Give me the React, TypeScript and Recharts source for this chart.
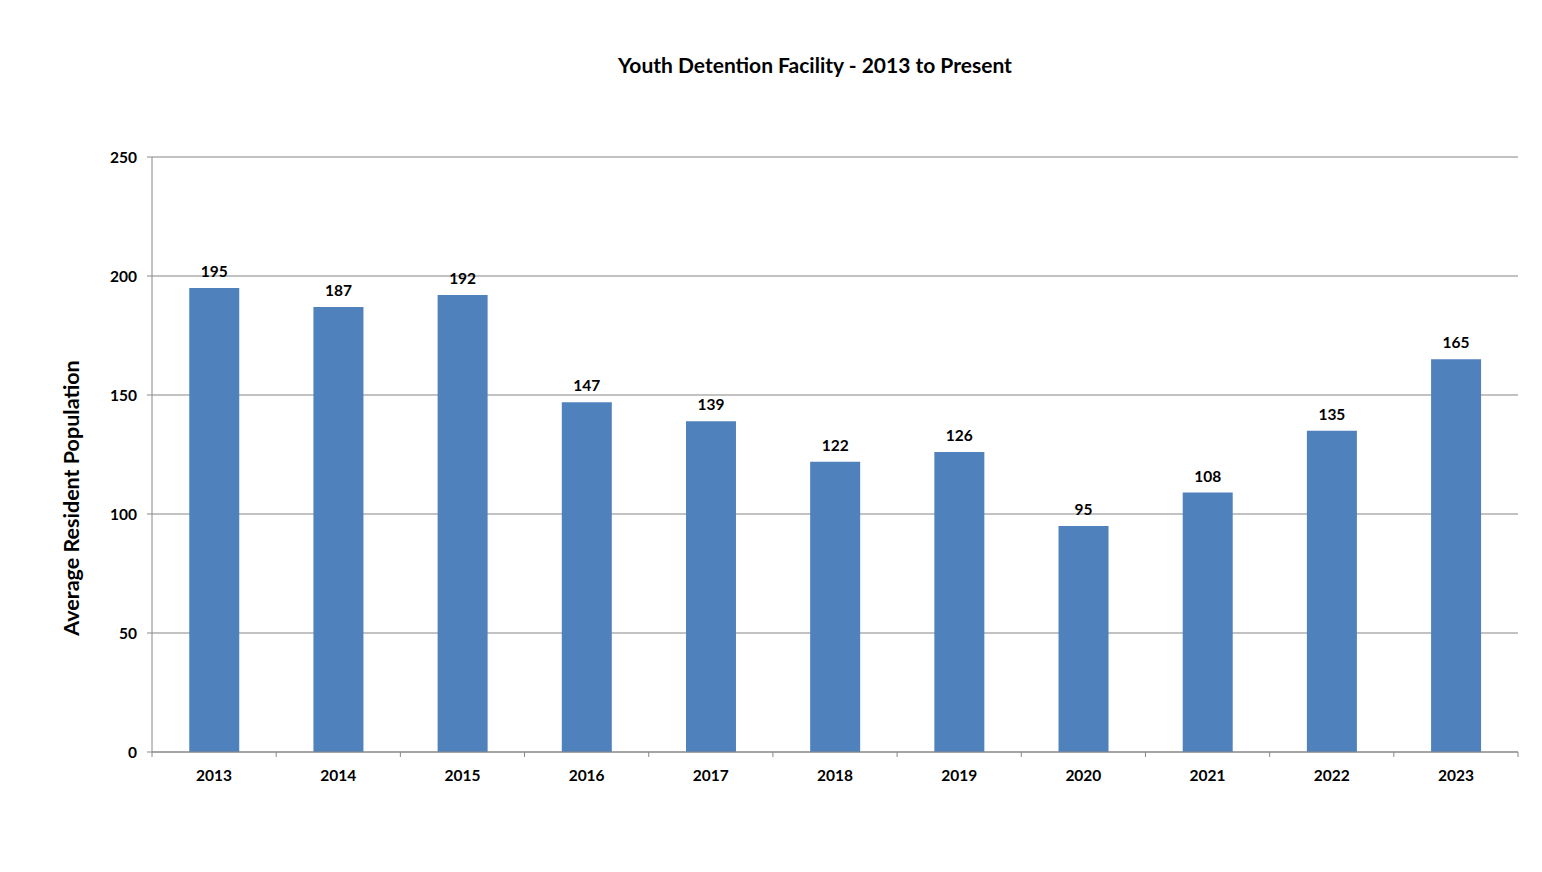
import React from 'react';
import { BarChart, Bar, XAxis, YAxis, CartesianGrid, LabelList } from 'recharts';

const years = ['2013', '2014', '2015', '2016', '2017', '2018', '2019', '2020', '2021', '2022', '2023'];
const population = [195, 187, 192, 147, 139, 122, 126, 95, 109, 135, 165];
const populationLabels = ['195', '187', '192', '147', '139', '122', '126', '95', '108', '135', '165'];
const yTicks = [0, 50, 100, 150, 200, 250];

const data = years.map((year, i) => ({
  year,
  value: population[i],
  label: populationLabels[i],
}));

const FONT = 'Lato, "Open Sans", sans-serif';
const CHART_W = 1542;
const CHART_H = 872;
const MARGIN = { top: 157, right: 24, left: 0, bottom: 90 };
const Y_AXIS_W = 152;
const PLOT_W = CHART_W - MARGIN.left - MARGIN.right - Y_AXIS_W;
const BAND = PLOT_W / years.length;

const XTick = (props: any) => {
  const { x, y, payload, index } = props;
  const top = y - 8;
  return (
    <g>
      <line x1={x - BAND / 2} y1={top} x2={x - BAND / 2} y2={top + 5} stroke="#888" />
      {index === years.length - 1 && (
        <line x1={x + BAND / 2} y1={top} x2={x + BAND / 2} y2={top + 5} stroke="#888" />
      )}
      <text x={x} y={y + 21} textAnchor="middle" fontFamily={FONT} fontWeight="bold" fontSize={15.5} fill="#000">
        {payload.value}
      </text>
    </g>
  );
};

export default function App() {
  return (
    <div style={{ position: 'absolute', left: 0, top: 0, width: CHART_W, height: CHART_H, background: '#fff' }}>
      <div
        style={{
          position: 'absolute',
          top: 52,
          left: 0,
          width: 1630,
          textAlign: 'center',
          fontFamily: FONT,
          fontWeight: 'bold',
          fontSize: 21,
          color: '#000',
        }}
      >
        Youth Detention Facility - 2013 to Present
      </div>
      <div
        style={{
          position: 'absolute',
          left: 71,
          top: 498,
          transform: 'translate(-50%, -50%) rotate(-90deg)',
          whiteSpace: 'nowrap',
          fontFamily: FONT,
          fontWeight: 'bold',
          fontSize: 21.5,
          color: '#000',
        }}
      >
        Average Resident Population
      </div>
      <BarChart width={CHART_W} height={CHART_H} data={data} margin={MARGIN} barCategoryGap="30%">
        <CartesianGrid vertical={false} stroke="#858585" strokeWidth={1} />
        <XAxis
          dataKey="year"
          axisLine={{ stroke: '#888' }}
          tickLine={false}
          tick={<XTick />}
          interval={0}
          height={30}
        />
        <YAxis
          domain={[0, 250]}
          ticks={yTicks}
          width={Y_AXIS_W}
          axisLine={{ stroke: '#888' }}
          tickLine={{ stroke: '#888' }}
          tickSize={5}
          tickMargin={10}
          tick={{ fontFamily: FONT, fontWeight: 'bold', fontSize: 15.5, fill: '#000' }}
        />
        <Bar dataKey="value" fill="#4F81BD" isAnimationActive={false}>
          <LabelList
            dataKey="label"
            position="top"
            offset={11}
            style={{ fontFamily: FONT, fontWeight: 'bold', fontSize: 15.5, fill: '#000' }}
          />
        </Bar>
      </BarChart>
    </div>
  );
}
